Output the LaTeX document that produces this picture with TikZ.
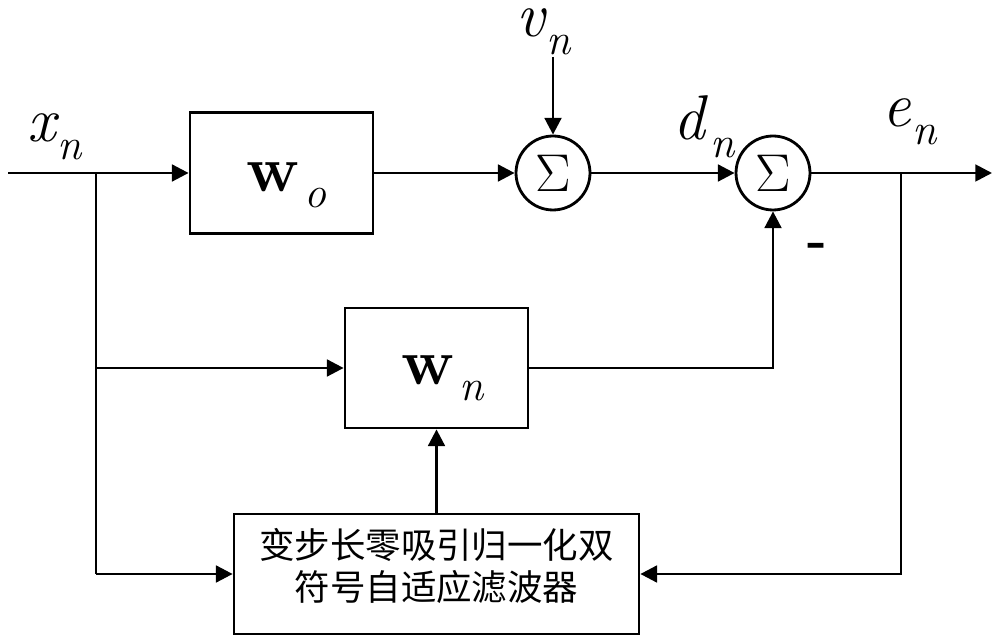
\documentclass[tikz,border=0pt]{standalone}
\usepackage{fontspec}
\usepackage{graphicx}
\newfontfamily\cjk{Noto Sans CJK SC}
\usetikzlibrary{arrows.meta}
\newcommand\sublab[2]{{\fontsize{36}{36}\selectfont\itshape #1}\kern1pt\raisebox{-10pt}{\fontsize{25}{25}\selectfont\itshape #2}}
\newcommand\wlab[2]{{\fontsize{37}{37}\selectfont\bfseries #1}\kern3pt\raisebox{-9pt}{\fontsize{25}{25}\selectfont\itshape #2}}
\newcommand\bigsig{\scalebox{1.75}{$\Sigma$}}
\begin{document}
\begin{tikzpicture}[x=0.02cm,y=-0.02cm,line width=1.6pt,
  arr/.style={-{Triangle[length=9.5pt,width=9.5pt]}},
  blk/.style={draw,minimum width=3.66cm,minimum height=2.4cm,inner sep=0pt},
  sumnode/.style={draw,circle,minimum size=1.48cm,inner sep=0pt,font=\fontsize{17}{17}\selectfont},
  lab/.style={anchor=base west,inner sep=0pt}]
\useasboundingbox (0,0) rectangle (1000,644);
\node[blk,minimum height=2.42cm] (wo) at (281.5,173) {};
\node[blk] (wn) at (436.5,368) {};
\node[blk,minimum width=8.1cm] (bot) at (436.5,574) {};
\node[align=center,inner sep=0pt,font=\cjk\fontsize{20.2}{24.4}\selectfont] (bottxt) at (436.5,566) {变步长零吸引归一化双\\符号自适应滤波器};
\node[lab] (wolab) at (245,192) {\wlab{w}{o}};
\node[lab] (wnlab) at (400,385) {\wlab{w}{n}};
\node[sumnode] (s1) at (553,173) {\bigsig};
\node[sumnode] (s2) at (773,173) {\bigsig};
\node[lab] (xlab) at (26,142) {\sublab{x}{n}};
\node[lab] (vlab) at (515,37) {\sublab{v}{n}};
\node[lab] (dlab) at (672,140) {\sublab{d}{\kern2pt n}};
\node[lab] (elab) at (881,127) {\sublab{e}{n}};
\node[inner sep=0pt,font=\fontsize{30}{30}\selectfont\bfseries] (minus) at (817,250) {-};
\coordinate (in) at (8,173);
\coordinate (br1) at (96,173);
\coordinate (br2) at (901,173);
\coordinate (out) at (992,173);
\coordinate (vtop) at (553,57);
\draw (in) -- (br1);
\draw[arr] (br1) -- (wo.west);
\draw[arr] (wo.east) -- (s1.west);
\draw[arr] (vtop) -- (s1.north);
\draw[arr] (s1.east) -- (s2.west);
\draw (s2.east) -- (br2);
\draw[arr] (br2) -- (out);
\draw (br1) -- (br1 |- bot.west);
\draw[arr] (br1 |- wn.west) -- (wn.west);
\draw[arr] (br1 |- bot.west) -- (bot.west);
\draw[arr] (wn.east) -| (s2.south);
\draw[arr] (bot.north) -- (wn.south);
\draw[arr] (br2) |- (bot.east);
\end{tikzpicture}
\end{document}
